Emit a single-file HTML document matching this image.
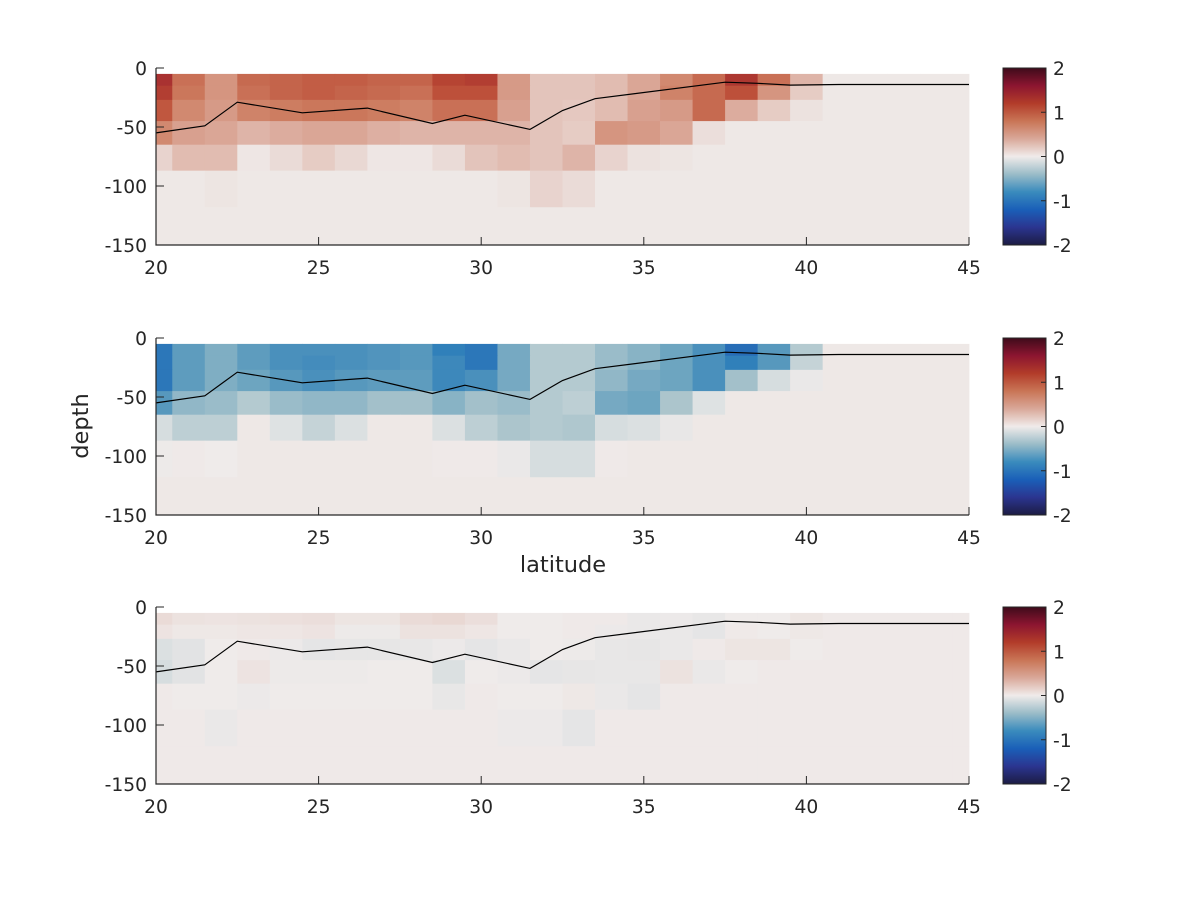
<!DOCTYPE html>
<html><head><meta charset="utf-8"><style>
body{margin:0;background:#fff;}
svg text{font-family:"DejaVu Sans","Liberation Sans",sans-serif;fill:#262626;font-size:18.7px;}
</style></head><body>
<svg id="fig" width="1200" height="900" viewBox="0 0 1200 900" xmlns="http://www.w3.org/2000/svg">
<defs>
<linearGradient id="cbgrad" x1="0" y1="1" x2="0" y2="0">
<stop offset="0" stop-color="#1c1c44"/>
<stop offset="0.1" stop-color="#2b3590"/>
<stop offset="0.2" stop-color="#1a5fb8"/>
<stop offset="0.3" stop-color="#3a8bbd"/>
<stop offset="0.4" stop-color="#9bbcc8"/>
<stop offset="0.5" stop-color="#f0ebea"/>
<stop offset="0.6" stop-color="#d9a899"/>
<stop offset="0.7" stop-color="#c97556"/>
<stop offset="0.8" stop-color="#b23c2a"/>
<stop offset="0.9" stop-color="#8c1530"/>
<stop offset="1" stop-color="#3e0b1b"/>
</linearGradient>
</defs>
</svg>
<script>
// ---- data ----
const latitudes = [20,21,22,23,24,25,26,27,28,29,30,31,32,33,34,35,36,37,38,39,40,41,42,43,44,45];
const depthEdges = [-5,-15,-27,-45,-65,-87,-118,-150];
const xTicks = [20,25,30,35,40,45];
const yTicks = [0,-50,-100,-150];
const cbTicks = [2,1,0,-1,-2];
const mldLat = [20,21.5,22.5,24.5,26.5,28.5,29.5,31.5,32.5,33.5,37.5,38.5,39.5,41,45];
const mldDepth = [-55,-49,-29,-38,-34,-47,-40,-52,-36,-26,-12,-13,-14.5,-14,-14];

const panel1 = [
[1.4,0.9,0.6,0.95,1.0,1.05,1.05,1.0,1.0,1.25,1.3,0.55,0.25,0.25,0.3,0.45,0.7,0.95,1.35,0.9,0.35,0.02,0.02,0.02,0.02,0.02],
[1.3,0.85,0.6,0.9,1.0,1.05,1.0,0.95,0.9,1.15,1.15,0.55,0.25,0.25,0.3,0.45,0.75,0.95,1.15,0.6,0.2,0.02,0.02,0.02,0.02,0.02],
[1.1,0.7,0.55,0.75,0.8,0.85,0.85,0.8,0.75,0.9,0.9,0.5,0.25,0.22,0.3,0.5,0.55,0.95,0.4,0.2,0.06,0.02,0.02,0.02,0.02,0.02],
[0.7,0.5,0.45,0.35,0.4,0.45,0.45,0.38,0.35,0.35,0.35,0.35,0.25,0.2,0.6,0.55,0.45,0.08,0.02,0.02,0.02,0.02,0.02,0.02,0.02,0.02],
[0.15,0.3,0.3,0.03,0.1,0.2,0.12,0.03,0.03,0.1,0.25,0.3,0.25,0.35,0.15,0.06,0.04,0.02,0.02,0.02,0.02,0.02,0.02,0.02,0.02,0.02],
[0.02,0.02,0.04,0.02,0.02,0.02,0.02,0.02,0.02,0.02,0.02,0.04,0.15,0.1,0.02,0.02,0.02,0.02,0.02,0.02,0.02,0.02,0.02,0.02,0.02,0.02],
[0.02,0.02,0.02,0.02,0.02,0.02,0.02,0.02,0.02,0.02,0.02,0.02,0.02,0.02,0.02,0.02,0.02,0.02,0.02,0.02,0.02,0.02,0.02,0.02,0.02,0.02]
];
const panel2 = [
[-1.3,-0.85,-0.65,-0.85,-1.0,-1.0,-1.0,-0.95,-0.9,-1.2,-1.3,-0.7,-0.35,-0.35,-0.5,-0.6,-0.75,-1.0,-1.4,-0.9,-0.35,0.02,0.02,0.02,0.02,0.02],
[-1.3,-0.85,-0.65,-0.85,-1.0,-1.05,-1.0,-0.95,-0.9,-1.1,-1.3,-0.7,-0.35,-0.35,-0.5,-0.6,-0.75,-1.0,-1.2,-0.9,-0.25,0.02,0.02,0.02,0.02,0.02],
[-1.3,-0.85,-0.65,-0.75,-0.9,-1.0,-0.9,-0.85,-0.85,-1.1,-1.0,-0.7,-0.35,-0.35,-0.55,-0.7,-0.75,-1.0,-0.45,-0.15,-0.03,0.02,0.02,0.02,0.02,0.02],
[-0.9,-0.55,-0.5,-0.35,-0.5,-0.55,-0.55,-0.45,-0.45,-0.6,-0.45,-0.5,-0.35,-0.3,-0.7,-0.75,-0.4,-0.1,0.02,0.02,0.02,0.02,0.02,0.02,0.02,0.02],
[-0.15,-0.3,-0.3,0.02,-0.1,-0.25,-0.12,0.02,0.02,-0.12,-0.3,-0.4,-0.35,-0.38,-0.15,-0.12,-0.04,0.02,0.02,0.02,0.02,0.02,0.02,0.02,0.02,0.02],
[-0.01,0.01,0,0.02,0.02,0.02,0.02,0.02,0.02,0.01,0.01,-0.03,-0.15,-0.15,0.01,0.02,0.02,0.02,0.02,0.02,0.02,0.02,0.02,0.02,0.02,0.02],
[0.02,0.02,0.02,0.02,0.02,0.02,0.02,0.02,0.02,0.02,0.02,0.02,0.02,0.02,0.02,0.02,0.02,0.02,0.02,0.02,0.02,0.02,0.02,0.02,0.02,0.02]
];
const panel3 = [
[0.1,0.06,0.05,0.06,0.07,0.08,0.04,0.04,0.1,0.12,0.08,0,0,0.01,0.01,-0.03,-0.02,-0.04,0,0,0.04,0.01,0.01,0.01,0.01,0.01],
[0.05,0.02,0.02,0.03,0.03,0.05,-0.01,-0.01,0.06,0.06,0.03,0,0,0.01,-0.02,-0.03,-0.03,-0.06,0.01,0,0.02,0.01,0.01,0.01,0.01,0.01],
[-0.12,-0.08,0,0.01,-0.02,-0.06,-0.05,-0.05,-0.04,-0.02,-0.06,-0.03,0,-0.01,-0.04,-0.05,-0.03,0.01,0.04,0.04,0,0.01,0.01,0.01,0.01,0.01],
[-0.15,-0.08,0,0.05,-0.01,-0.01,-0.01,0,0,-0.12,0,-0.02,-0.06,-0.05,-0.04,-0.04,0.06,-0.03,0,0.01,0.01,0.01,0.01,0.01,0.01,0.01],
[0.01,0,0,-0.02,0,0,0,0,0,-0.04,0.01,0,0,0.02,-0.03,-0.06,0.01,0.01,0.01,0.01,0.01,0.01,0.01,0.01,0.01,0.01],
[0.01,0.01,-0.03,0.01,0.01,0.01,0.01,0.01,0.01,0.01,0.01,-0.02,-0.02,-0.06,0.01,0.01,0.01,0.01,0.01,0.01,0.01,0.01,0.01,0.01,0.01,0.01],
[0.01,0.01,0.01,0.01,0.01,0.01,0.01,0.01,0.01,0.01,0.01,0.01,0.01,0.01,0.01,0.01,0.01,0.01,0.01,0.01,0.01,0.01,0.01,0.01,0.01,0.01]
];

// ---- rendering ----
const NS = "http://www.w3.org/2000/svg";
const svg = document.getElementById('fig');
const X0 = 156, X1 = 969;
const panelsTop = [68, 338, 607];
const PH = 177;
const cmap = [[-2,[28,28,68]],[-1.6,[30,90,180]],[-1.2,[48,128,186]],[-0.8,[100,160,190]],[-0.4,[172,197,204]],[0,[239,235,234]],[0.4,[220,172,158]],[0.8,[205,125,97]],[1.2,[187,74,52]],[1.6,[150,25,45]],[2,[62,11,27]]];
function color(v){
  v = Math.max(-2, Math.min(2, v));
  for (let i = 0; i < cmap.length-1; i++){
    const a = cmap[i], b = cmap[i+1];
    if (v <= b[0]){
      const t = (v-a[0])/(b[0]-a[0]);
      const c = a[1].map((ch,k)=>Math.round(ch+(b[1][k]-ch)*t));
      return `rgb(${c[0]},${c[1]},${c[2]})`;
    }
  }
  return 'rgb(62,11,27)';
}
function el(tag, attrs, parent){
  const e = document.createElementNS(NS, tag);
  for (const k in attrs) e.setAttribute(k, attrs[k]);
  (parent||svg).appendChild(e);
  return e;
}
const xs = lat => X0 + (lat-20)/(45-20)*(X1-X0);
const datas = [panel1, panel2, panel3];
datas.forEach((data, p) => {
  const top = panelsTop[p];
  const ys = d => top + (-d)/150*PH;
  const g = el('g', {});
  
  
  const cells = el('g', {}, g);
  
  
  data.forEach((row, r) => {
    row.forEach((v, c) => {
      const l = Math.max(20, latitudes[c]-0.5), rr = Math.min(45, latitudes[c]+0.5);
      const y1 = ys(depthEdges[r]), y2 = ys(r+1 < depthEdges.length ? depthEdges[r+1] : -150);
      const rc = el('rect', {x: xs(l), y: y1, width: xs(rr)-xs(l)+0.4, height: y2-y1+0.4, fill: color(v)}, cells);
      
      
    });
  });
  const pts = mldLat.map((la,i)=> xs(la).toFixed(1)+','+ys(mldDepth[i]).toFixed(1)).join(' ');
  const ln = el('polyline', {points: pts, fill:'none', stroke:'#000', 'stroke-width':1.2}, g);
  
  
  const ax = el('path', {d:`M${X0},${top} V${top+PH} H${X1}`, fill:'none', stroke:'#262626', 'stroke-width':1.2}, g);
  
  
  yTicks.forEach(t => {
    const y = ys(t);
    el('line', {x1:X0, x2:X0+8, y1:y, y2:y, stroke:'#262626', 'stroke-width':1}, g);
    const tx = el('text', {x: X0-9, y: y+7, 'text-anchor':'end'}, g);
    tx.textContent = t;
    
    
  });
  xTicks.forEach(t => {
    const x = xs(t);
    el('line', {x1:x, x2:x, y1:top+PH, y2:top+PH-8, stroke:'#262626', 'stroke-width':1}, g);
    const tx = el('text', {x: x, y: top+PH+29, 'text-anchor':'middle'}, g);
    tx.textContent = t;
    
    
  });
  const cb = el('g', {}, svg);
  
  
  el('rect', {x:1003, y:top, width:43, height:PH, fill:'url(#cbgrad)', stroke:'#262626', 'stroke-width':1}, cb);
  cbTicks.forEach(t => {
    const y = top + (2-t)/4*PH;
    el('line', {x1:1046, x2:1041, y1:y, y2:y, stroke:'#262626', 'stroke-width':1}, cb);
    const tx = el('text', {x:1053, y:y+7}, cb);
    tx.textContent = t;
    
    
  });
});
const yl = el('text', {x:0, y:0, 'text-anchor':'middle', transform:'translate(88,426) rotate(-90)', style:'font-size:22.5px'});
yl.textContent = 'depth';


const xl = el('text', {x:563, y:572, 'text-anchor':'middle', style:'font-size:22.5px'});
xl.textContent = 'latitude';


</script>
</body></html>
